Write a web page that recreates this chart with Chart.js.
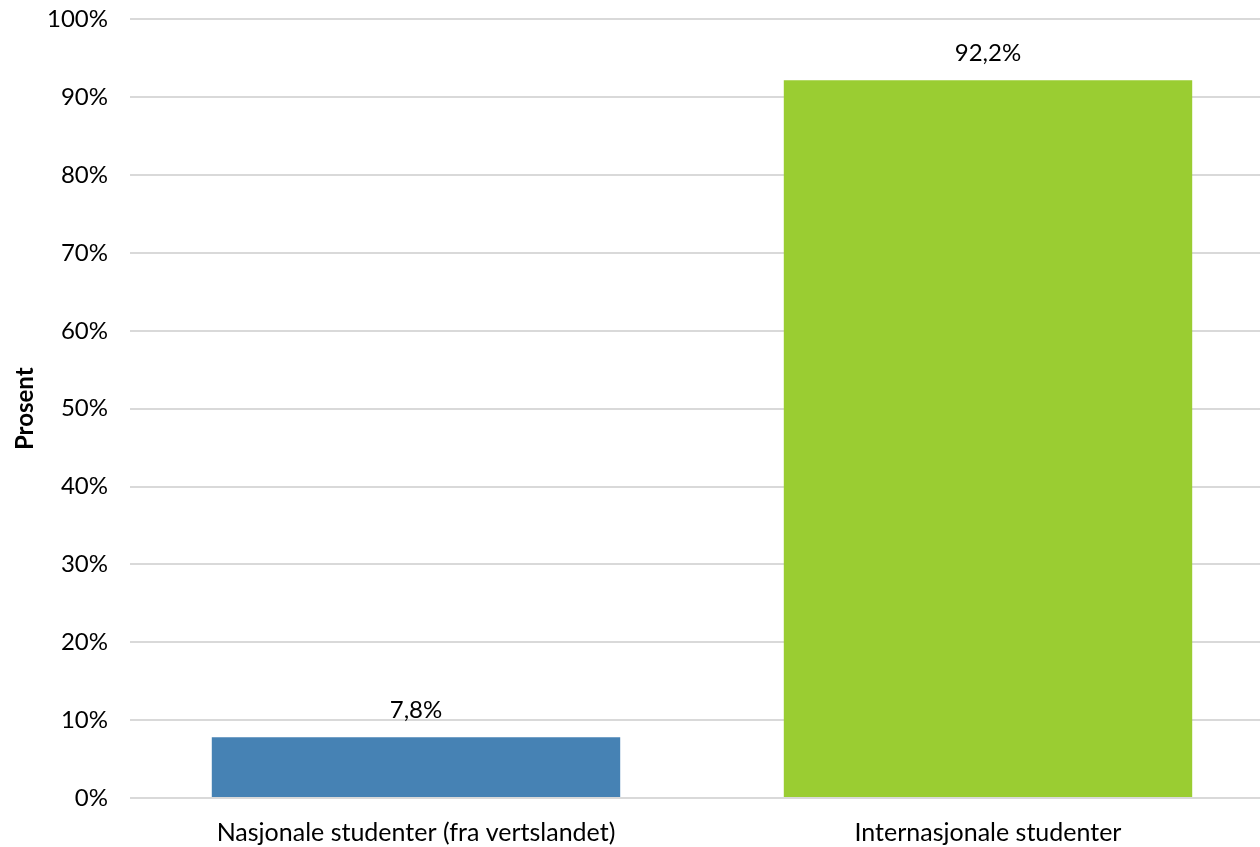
<!DOCTYPE html>
<html>
<head>
<meta charset="utf-8">
<script src="https://cdn.jsdelivr.net/npm/chart.js@4"></script>
<style>
  html, body { margin: 0; padding: 0; background: #fff; width: 1260px; height: 847px; overflow: hidden; }
  #wrap { position: absolute; left: 0; top: -17px; width: 1274px; height: 864px; }
</style>
</head>
<body>
<div id="wrap"><canvas id="chart"></canvas></div>
<script>
// Data
const kategorier = ['Nasjonale studenter (fra vertslandet)', 'Internasjonale studenter'];
const andeler = [7.8, 92.2];
const farger = ['#4682B4', '#9ACD32'];
const yTicks = [0, 10, 20, 30, 40, 50, 60, 70, 80, 90, 100];

const fontFamily = 'Lato, "Open Sans", sans-serif';

// Verdietiketter over søylene
const verdiPlugin = {
    id: 'verdier',
    afterDatasetsDraw(chart) {
        const ctx = chart.ctx;
        const meta = chart.getDatasetMeta(0);
        ctx.save();
        ctx.font = '24px ' + fontFamily;
        ctx.fillStyle = '#000';
        ctx.textAlign = 'center';
        ctx.textBaseline = 'middle';
        meta.data.forEach((bar, i) => {
            const txt = andeler[i].toFixed(1).replace('.', ',') + '%';
            ctx.fillText(txt, bar.x, bar.y - 27);
        });
        ctx.restore();
    }
};

new Chart(document.getElementById('chart'), {
    type: 'bar',
    data: {
        labels: kategorier,
        datasets: [{
            data: andeler,
            backgroundColor: farger,
            borderWidth: 0,
            categoryPercentage: 1,
            barPercentage: 0.714
        }]
    },
    options: {
        responsive: true,
        maintainAspectRatio: false,
        animation: false,
        layout: { padding: 0 },
        plugins: {
            legend: { display: false },
            tooltip: { enabled: false }
        },
        scales: {
            x: {
                grid: { display: false, drawTicks: false },
                border: { display: false },
                ticks: {
                    color: '#000',
                    font: { family: fontFamily, size: 25 },
                    padding: 20,
                    maxRotation: 0
                },
                afterFit(scale) { scale.height = 49; }
            },
            y: {
                min: 0,
                max: 100,
                afterBuildTicks(scale) {
                    scale.ticks = yTicks.map(v => ({ value: v }));
                },
                grid: { color: '#d9d9d9', lineWidth: 2, drawTicks: false },
                border: { display: false },
                ticks: {
                    color: '#000',
                    font: { family: fontFamily, size: 24 },
                    padding: 22,
                    callback: v => v + '%'
                },
                title: {
                    display: true,
                    text: 'Prosent',
                    color: '#000',
                    font: { family: fontFamily, size: 24, weight: 'bold' },
                    padding: { top: 11, bottom: 0 }
                },
                afterFit(scale) { scale.width = 130; }
            }
        }
    },
    plugins: [verdiPlugin]
});
</script>
</body>
</html>
